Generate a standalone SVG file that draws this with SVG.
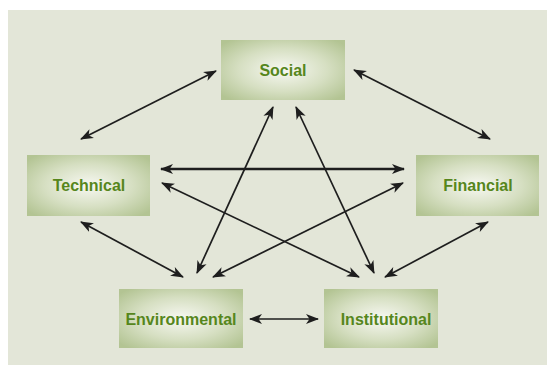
<svg xmlns="http://www.w3.org/2000/svg" width="547" height="365" viewBox="0 0 547 365">
<defs>
<style>
.box{fill:url(#g)}
.lbl{font-family:"Liberation Sans",Arial,sans-serif;font-weight:bold;font-size:16px;fill:#56861c;text-anchor:middle;dominant-baseline:central}
.c{stroke:#1e1e1e;stroke-width:1.7;fill:none;marker-start:url(#ah);marker-end:url(#ah)}
</style>
<radialGradient id="g" cx="50%" cy="50%" r="65%">
<stop offset="0" stop-color="#f7f8f2"/>
<stop offset="0.55" stop-color="#d6dfc2"/>
<stop offset="1" stop-color="#b3c493"/>
</radialGradient>
<marker id="ah" markerUnits="userSpaceOnUse" markerWidth="16" markerHeight="14" viewBox="0 -7 16 14" refX="12" refY="0" orient="auto-start-reverse">
<path d="M0,-5 L13,0 L0,5 L3.5,0 Z" fill="#1e1e1e"/>
</marker>
</defs>
<rect x="8" y="10" width="539" height="355" fill="#e3e6d8"/>
<g id="connectors">
<line class="c" x1="81" y1="139" x2="216" y2="71"/>
<line class="c" x1="354" y1="70" x2="490" y2="139"/>
<line class="c" x1="161" y1="169" x2="404" y2="169" style="stroke-width:2.3"/>
<line class="c" x1="162" y1="183" x2="359" y2="277"/>
<line class="c" x1="403" y1="183" x2="213" y2="277"/>
<line class="c" x1="273" y1="107" x2="197" y2="273"/>
<line class="c" x1="296" y1="107" x2="374" y2="273"/>
<line class="c" x1="81" y1="222" x2="183" y2="277"/>
<line class="c" x1="385" y1="277" x2="488" y2="222"/>
<line class="c" x1="250" y1="319" x2="318" y2="319"/>
</g>
<g id="social"><rect class="box" x="221" y="40" width="124" height="60"/><text class="lbl" x="283" y="70">Social</text></g>
<g id="technical"><rect class="box" x="27" y="155" width="123" height="61"/><text class="lbl" x="89" y="185">Technical</text></g>
<g id="financial"><rect class="box" x="416" y="155" width="123" height="61"/><text class="lbl" x="478" y="185">Financial</text></g>
<g id="environmental"><rect class="box" x="119" y="289" width="124" height="59"/><text class="lbl" x="181" y="319">Environmental</text></g>
<g id="institutional"><rect class="box" x="324" y="289" width="114" height="59"/><text class="lbl" x="386" y="319">Institutional</text></g>
</svg>
